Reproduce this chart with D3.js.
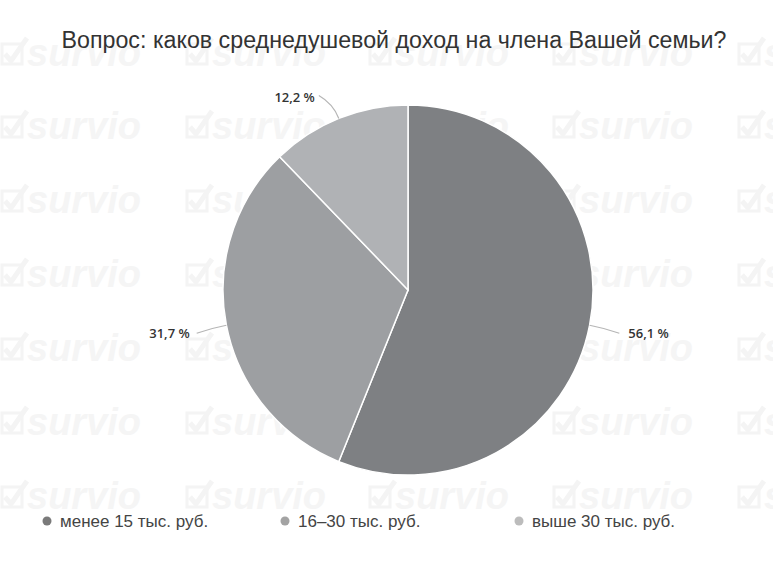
<!DOCTYPE html>
<html lang="ru">
  <head>
    <meta charset="utf-8">
    <title>Pie</title>
    <script src="https://cdnjs.cloudflare.com/ajax/libs/d3/7.8.5/d3.min.js"></script>
    <style type="text/css">
      body { margin: 0; background: #fff; }
    </style>
  </head>
  <body>
    <script type="text/javascript">

    var w = 773;
    var h = 571;

    // data
    var categories = ["менее 15 тыс. руб.", "16–30 тыс. руб.", "выше 30 тыс. руб."];
    var values = [56.1, 31.7, 12.2];
    var colors = ["#7e8083", "#9d9fa2", "#b0b2b5"];
    var legendColors = ["#7a7a7a", "#a3a3a3", "#bcbcbc"];
    var title = "Вопрос: каков среднедушевой доход на члена Вашей семьи?";

    var cx = 408, cy = 290, r = 185;

    var svg = d3.select("body")
                .append("svg")
                .attr("width", w)
                .attr("height", h);

    // watermark grid
    var wmCols = [0, 185, 368, 552, 737];
    var wmRows = [58, 131, 205, 279, 353, 427, 501];
    var wm = svg.append("g").attr("fill", "none");
    wmRows.forEach(function(y) {
      wmCols.forEach(function(x) {
        var g = wm.append("g").attr("transform", "translate(" + x + "," + y + ")");
        g.append("path")
         .attr("d", "M2,-14 L22,-14 L22,6 L2,6 Z")
         .attr("stroke", "#f4f4f4")
         .attr("stroke-width", 3);
        g.append("path")
         .attr("d", "M5,-4 L11,3 L27,-20")
         .attr("stroke", "#f4f4f4")
         .attr("stroke-width", 5);
        g.append("text")
         .attr("x", 27)
         .attr("y", 8)
         .attr("font-family", "Liberation Sans, Arial, sans-serif")
         .attr("font-weight", "bold")
         .attr("font-style", "italic")
         .attr("font-size", "38px")
         .attr("fill", "#f5f5f5")
         .text("survio");
      });
    });

    // title
    svg.append("text")
       .attr("x", 394)
       .attr("y", 48)
       .attr("text-anchor", "middle")
       .attr("font-family", "Liberation Sans Narrow, Liberation Sans, Arial, sans-serif")
       .attr("font-size", "23px")
       .attr("fill", "#333")
       .attr("textLength", 665)
       .attr("lengthAdjust", "spacingAndGlyphs")
       .text(title);

    var pie = d3.pie().sort(null).value(function(d) { return d; });
    var arcs = pie(values);
    var arc = d3.arc().innerRadius(0).outerRadius(r);

    var chart = svg.append("g").attr("transform", "translate(" + cx + "," + cy + ")");

    chart.selectAll("path.slice")
         .data(arcs)
         .enter()
         .append("path")
         .attr("class", "slice")
         .attr("d", arc)
         .attr("fill", function(d, i) { return colors[i]; })
         .attr("stroke", "#fff")
         .attr("stroke-width", 1.5);

    // connectors and labels
    function mid(d) { return (d.startAngle + d.endAngle) / 2; }
    function pt(a, rr) { return [rr * Math.sin(a), -rr * Math.cos(a)]; }

    chart.selectAll("path.conn")
         .data(arcs)
         .enter()
         .append("path")
         .attr("class", "conn")
         .attr("fill", "none")
         .attr("stroke", "#b5b5b5")
         .attr("stroke-width", 1.2)
         .attr("d", function(d) {
            var a = mid(d);
            var p0 = pt(a, r);
            var p1 = pt(a, r + 16);
            var right = Math.sin(a) >= 0;
            var p2 = [p1[0] + (right ? 14 : -14), p1[1] + 5];
            if (Math.cos(a) > 0.5) p2 = [p1[0] - 14, p1[1] - 8];
            return "M" + p0 + "Q" + p1 + " " + p2;
         });

    chart.selectAll("text.lbl")
         .data(arcs)
         .enter()
         .append("text")
         .attr("class", "lbl")
         .attr("font-family", "Open Sans, DejaVu Sans, sans-serif")
         .attr("font-weight", "600")
         .attr("font-size", "13px")
         .attr("fill", "#333")
         .attr("dy", "0.35em")
         .attr("text-anchor", function(d) {
            return Math.sin(mid(d)) >= 0 ? "start" : "end";
         })
         .attr("x", function(d) {
            var a = mid(d);
            var p1 = pt(a, r + 16);
            return Math.cos(a) > 0.5 ? p1[0] - 18 : p1[0] + (Math.sin(a) >= 0 ? 23 : -21);
         })
         .attr("y", function(d) {
            var a = mid(d);
            var p1 = pt(a, r + 16);
            return Math.cos(a) > 0.5 ? p1[1] - 6 : p1[1] + 5;
         })
         .text(function(d) { return String(d.data.toFixed(1)).replace(".", ",") + " %"; });

    // legend
    var legendX = [47, 285, 519];
    var legend = svg.selectAll("g.leg")
                    .data(categories)
                    .enter()
                    .append("g")
                    .attr("class", "leg")
                    .attr("transform", function(d, i) { return "translate(" + legendX[i] + ",521)"; });

    legend.append("circle")
          .attr("r", 4.5)
          .attr("fill", function(d, i) { return legendColors[i]; });

    legend.append("text")
          .attr("x", 13)
          .attr("dy", "0.35em")
          .attr("font-family", "Liberation Sans Narrow, Liberation Sans, Arial, sans-serif")
          .attr("font-size", "17px")
          .attr("fill", "#444")
          .text(function(d) { return d; });

    </script>
  </body>
</html>
